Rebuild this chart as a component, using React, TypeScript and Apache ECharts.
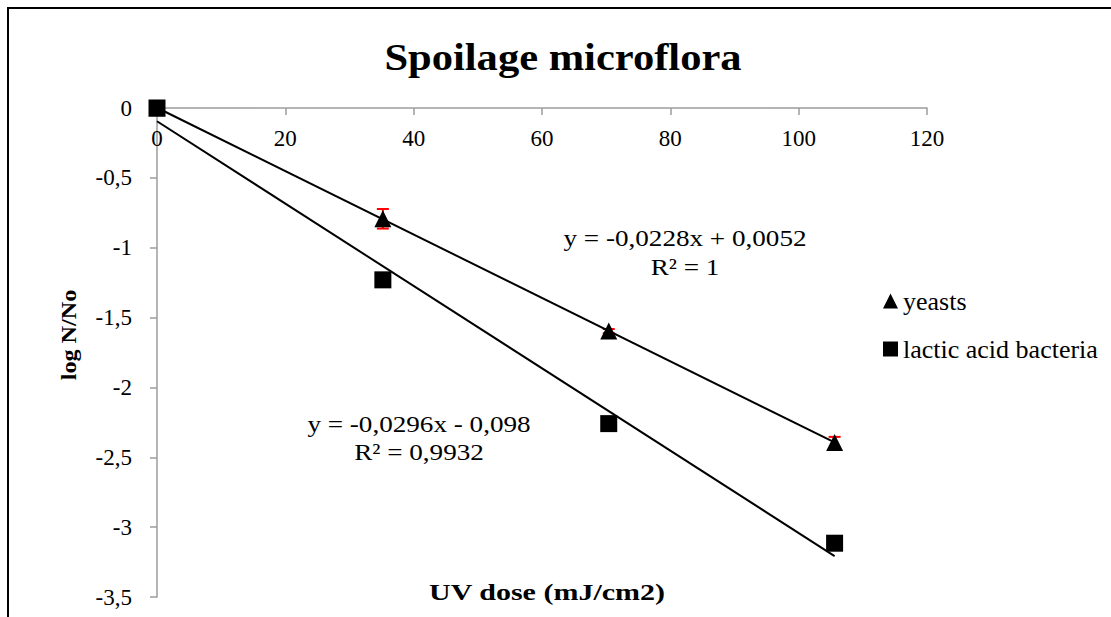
import React, { useEffect, useRef } from "react";
import * as echarts from "echarts";

const doses = [0, 35.2, 70.4, 105.6];
const yeasts = [0, -0.793, -1.597, -2.394];
const yeastsErr = [0, 0.07, 0.015, 0.04];
const lab = [0, -1.23, -2.259, -3.115];
const xTicks = [0, 20, 40, 60, 80, 100, 120];
const yTicks = [0, -0.5, -1, -1.5, -2, -2.5, -3, -3.5];
const seriesNames = ["yeasts", "lactic acid bacteria"];
const eqYeasts = ["y = -0,0228x + 0,0052", "R² = 1"];
const eqLab = ["y = -0,0296x - 0,098", "R² = 0,9932"];

const FONT = "Liberation Serif";

function linreg(xs: number[], ys: number[]) {
  const n = xs.length;
  const mx = xs.reduce((a, b) => a + b, 0) / n;
  const my = ys.reduce((a, b) => a + b, 0) / n;
  let sxy = 0;
  let sxx = 0;
  for (let i = 0; i < n; i++) {
    sxy += (xs[i] - mx) * (ys[i] - my);
    sxx += (xs[i] - mx) * (xs[i] - mx);
  }
  const m = sxy / sxx;
  return { m, b: my - m * mx };
}

function trend(xs: number[], ys: number[]) {
  const { m, b } = linreg(xs, ys);
  const x0 = xs[0];
  const x1 = xs[xs.length - 1];
  return [
    [x0, m * x0 + b],
    [x1, m * x1 + b],
  ];
}

function label(text: string, x: number, y: number, size: number, sx: number, bold = false, rotation = 0) {
  return {
    type: "text",
    x,
    y,
    rotation,
    scaleX: sx,
    style: {
      text,
      font: `${bold ? "bold " : ""}${size}px ${FONT}`,
      fill: "#000",
      align: "center",
      verticalAlign: "middle",
    },
  };
}

export default function App() {
  const ref = useRef<HTMLDivElement>(null);
  useEffect(() => {
    if (!ref.current) return;
    const chart = echarts.init(ref.current, undefined, { renderer: "svg" });
    const axisColor = "#9c9c9c";
    chart.setOption({
      animation: false,
      backgroundColor: "#ffffff",
      textStyle: { fontFamily: FONT },
      grid: { left: 157, right: 184, top: 108, bottom: 20, containLabel: false, outerBoundsMode: "none" },
      legend: {
        orient: "vertical",
        left: 883,
        top: 288,
        padding: 0,
        itemWidth: 15,
        itemHeight: 15,
        itemGap: 22,
        selectedMode: false,
        data: [
          { name: seriesNames[0], icon: "triangle" },
          { name: seriesNames[1], icon: "rect" },
        ],
        textStyle: { fontFamily: FONT, fontSize: 26, color: "#000" },
      },
      xAxis: {
        type: "value",
        position: "top",
        min: xTicks[0],
        max: xTicks[xTicks.length - 1],
        interval: xTicks[1] - xTicks[0],
        axisLine: { show: true, onZero: false, lineStyle: { color: axisColor, width: 1.5 } },
        axisTick: { show: true, inside: true, length: 7, lineStyle: { color: axisColor, width: 1.5 } },
        axisLabel: { inside: true, fontFamily: FONT, fontSize: 23, color: "#000", margin: 19 },
        splitLine: { show: false },
      },
      yAxis: {
        type: "value",
        min: yTicks[yTicks.length - 1],
        max: yTicks[0],
        interval: 0.5,
        axisLine: { show: true, onZero: false, lineStyle: { color: axisColor, width: 1.5 } },
        axisTick: { show: true, length: 7, lineStyle: { color: axisColor, width: 1.5 } },
        axisLabel: {
          fontFamily: FONT,
          fontSize: 23,
          color: "#000",
          margin: 25,
          formatter: (v: number) => String(v).replace(".", ","),
        },
        splitLine: { show: false },
      },
      graphic: [
        {
          type: "rect",
          shape: { x: 8, y: 8, width: 1300, height: 800 },
          style: { fill: "none", stroke: "#000", lineWidth: 2 },
          silent: true,
        },
        label("Spoilage microflora", 563, 57, 38, 1.12, true),
        label("log N/No", 68, 335, 22, 1.1, true, Math.PI / 2),
        label("UV dose (mJ/cm2)", 547, 592, 24, 1.25, true),
        label(eqYeasts[0], 685, 238, 23, 1.18),
        label(eqYeasts[1], 685, 267, 23, 1.18),
        label(eqLab[0], 419, 424, 23, 1.18),
        label(eqLab[1], 419, 452, 23, 1.18),
      ],
      series: [
        {
          name: "yeasts error",
          type: "custom",
          z: 1,
          data: doses.map((d, i) => [d, yeasts[i], yeastsErr[i]]),
          renderItem: (params: any, api: any) => {
            const x = api.value(0);
            const y = api.value(1);
            const e = api.value(2);
            if (!e) return null;
            const top = api.coord([x, y + e]);
            const bot = api.coord([x, y - e]);
            const hw = 6;
            const st = { stroke: "#ff0000", lineWidth: 2 };
            return {
              type: "group",
              children: [
                { type: "line", shape: { x1: top[0], y1: top[1], x2: bot[0], y2: bot[1] }, style: st },
                { type: "line", shape: { x1: top[0] - hw, y1: top[1], x2: top[0] + hw, y2: top[1] }, style: st },
                { type: "line", shape: { x1: bot[0] - hw, y1: bot[1], x2: bot[0] + hw, y2: bot[1] }, style: st },
              ],
            };
          },
        },
        {
          name: "yeasts trend",
          type: "line",
          z: 2,
          data: trend(doses, yeasts),
          symbol: "none",
          clip: false,
          lineStyle: { color: "#000", width: 2 },
        },
        {
          name: "lab trend",
          type: "line",
          z: 2,
          data: trend(doses, lab),
          symbol: "none",
          clip: false,
          lineStyle: { color: "#000", width: 2 },
        },
        {
          name: seriesNames[0],
          type: "scatter",
          z: 3,
          symbol: "triangle",
          symbolSize: 17,
          clip: false,
          itemStyle: { color: "#000", opacity: 1 },
          data: doses.map((d, i) => [d, yeasts[i]]),
        },
        {
          name: seriesNames[1],
          type: "scatter",
          z: 4,
          symbol: "rect",
          symbolSize: 17,
          clip: false,
          itemStyle: { color: "#000", opacity: 1 },
          data: doses.map((d, i) => [d, lab[i]]),
        },
      ],
    });
    return () => chart.dispose();
  }, []);
  return (
    <div
      ref={ref}
      style={{ position: "fixed", left: 0, top: 0, width: 1111, height: 617, background: "#fff" }}
    />
  );
}
